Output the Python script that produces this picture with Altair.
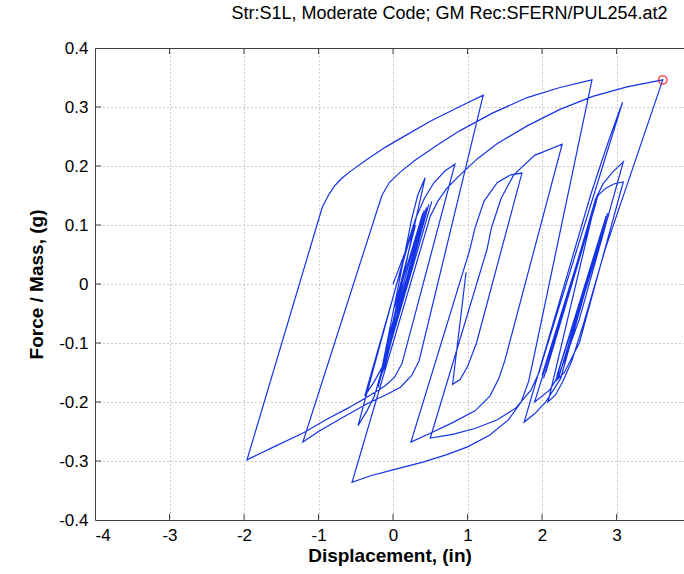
import altair as alt
import pandas as pd

# Hysteresis path (displacement in, force/mass g) in time order
disp = [
    0.00, 0.30, 0.02, 0.40, -0.08, 0.48, -0.14, 0.45, -0.18, 0.52,
    -0.10, -0.25, -0.38, 0.30, -0.12, 0.42, -0.20,
    0.25, 0.33, 0.43,
    -0.10, -0.17, -0.25, -0.35, -0.47,
    0.20, 0.30, 0.42, 0.55, 0.70, 0.83,
    0.12, 0.02, -0.10, -0.30, -0.60, -0.90, -1.20, -1.60, -1.96,
    -0.95, -0.86, -0.78, -0.68, -0.55, -0.35, -0.10, 0.20, 0.50, 0.85, 1.21,
    0.35, 0.25, 0.10, -0.10, -0.35, -0.70, -1.00, -1.21,
    -0.15, -0.05, 0.10, 0.30, 0.60, 0.90, 1.34, 1.80, 2.24, 2.67,
    1.88, 1.82, 1.72, 1.55, 1.30, 1.00, 0.70, 0.40, 0.00, -0.30, -0.55,
    0.50, 0.60, 0.72, 0.90, 1.13, 1.40, 1.80, 2.24, 2.68, 3.14, 3.62,
    2.85, 2.55, 2.40, 2.28, 2.18, 2.08,
    2.73, 2.82, 2.95, 3.09, 2.50, 2.30, 2.20, 2.10, 1.90,
    2.73, 2.05, 2.72, 2.02, 2.70, 2.00, 2.75, 2.85, 2.97, 3.09,
    2.50, 2.30, 2.18, 2.88, 2.22, 2.90, 2.20, 2.86,
    2.25, 2.05, 1.90, 1.76,
    2.65, 2.78, 2.90, 3.00, 3.08,
    2.03, 1.96, 1.85, 1.65, 1.40, 1.10, 0.80, 0.50,
    1.26, 1.32, 1.45, 1.62, 1.90, 2.27,
    1.50, 1.42, 1.30, 1.10, 0.80, 0.50, 0.24,
    1.03, 1.10, 1.22, 1.40, 1.58, 1.73,
    1.12, 1.00, 0.90, 0.80, 0.98,
]
force = [
    0.00, 0.10, -0.04, 0.12, -0.10, 0.135, -0.15, 0.13, -0.165, 0.14,
    -0.13, -0.165, -0.19, 0.11, -0.145, 0.125, -0.175,
    0.11, 0.15, 0.18,
    -0.12, -0.155, -0.19, -0.215, -0.24,
    0.07, 0.11, 0.145, 0.172, 0.192, 0.203,
    -0.135, -0.158, -0.172, -0.188, -0.21, -0.23, -0.252, -0.276, -0.298,
    0.13, 0.152, 0.167, 0.18, 0.193, 0.211, 0.232, 0.254, 0.276, 0.298, 0.32,
    -0.13, -0.155, -0.175, -0.188, -0.203, -0.228, -0.25, -0.268,
    0.15, 0.172, 0.19, 0.21, 0.236, 0.26, 0.29, 0.316, 0.333, 0.346,
    -0.13, -0.165, -0.20, -0.23, -0.256, -0.276, -0.29, -0.302, -0.315, -0.325, -0.336,
    0.115, 0.14, 0.162, 0.185, 0.212, 0.238, 0.268, 0.296, 0.318, 0.334, 0.346,
    0.06, -0.07, -0.13, -0.165, -0.188, -0.20,
    0.147, 0.17, 0.19, 0.207, -0.06, -0.13, -0.16, -0.18, -0.20,
    0.14, -0.15, 0.145, -0.16, 0.13, -0.155, 0.15, 0.162, 0.17, 0.173,
    -0.10, -0.15, -0.165, 0.12, -0.16, 0.12, -0.155, 0.115,
    -0.16, -0.20, -0.22, -0.234,
    0.15, 0.20, 0.245, 0.28, 0.308,
    -0.12, -0.15, -0.18, -0.21, -0.23, -0.245, -0.255, -0.261,
    0.058, 0.095, 0.145, 0.185, 0.218, 0.237,
    -0.13, -0.16, -0.19, -0.215, -0.235, -0.253, -0.268,
    0.058, 0.095, 0.14, 0.172, 0.185, 0.188,
    -0.10, -0.14, -0.162, -0.17, 0.02,
]
peak_disp = [3.62]
peak_force = [0.346]

x_ticks = [-4, -3, -2, -1, 0, 1, 2, 3]
y_ticks = [-0.4, -0.3, -0.2, -0.1, 0.0, 0.1, 0.2, 0.3, 0.4]

path = pd.DataFrame({"i": list(range(len(disp))), "x": disp, "y": force})
peak = pd.DataFrame({"x": peak_disp, "y": peak_force})
xt = pd.DataFrame({"x": x_ticks[1:]})
yt = pd.DataFrame({"y": y_ticks[1:-1]})

W, H = 589, 472
FONT = "Liberation Sans"
xs = alt.Scale(domain=[-4, 3.905], nice=False, zero=False)
ys = alt.Scale(domain=[-0.4, 0.4], nice=False, zero=False)

line = alt.Chart(path).mark_line(color="#1533e6", strokeWidth=1.2, clip=True).encode(
    x=alt.X("x:Q", scale=xs,
            axis=alt.Axis(values=x_ticks, title="Displacement, (in)",
                          labelExpr="datum.value < 0 ? '-' + format(-datum.value, 'd') : format(datum.value, 'd')",
                          grid=True, gridDash=[1, 3], gridColor="#9a9a9a", gridWidth=1,
                          domainColor="#404040", tickSize=0, labelPadding=7,
                          labelFont=FONT, labelFontSize=17, labelColor="black",
                          titleFont=FONT, titleFontSize=19, titleFontWeight="bold",
                          titleColor="black", titlePadding=3)),
    y=alt.Y("y:Q", scale=ys,
            axis=alt.Axis(values=y_ticks, title="Force / Mass, (g)",
                          labelExpr="datum.value == 0 ? '0' : (datum.value < 0 ? '-' + format(-datum.value, '.1f') : format(datum.value, '.1f'))",
                          grid=True, gridDash=[1, 3], gridColor="#9a9a9a", gridWidth=1,
                          domainColor="#404040", tickSize=0, labelPadding=7,
                          labelFont=FONT, labelFontSize=17, labelColor="black",
                          titleFont=FONT, titleFontSize=19, titleFontWeight="bold",
                          titleColor="black", titlePadding=12)),
    order="i:Q",
)

pt = alt.Chart(peak).mark_point(shape="circle", filled=False, color="#ee1111",
                                size=70, strokeWidth=1.6).encode(
    x=alt.X("x:Q", scale=xs,
            axis=alt.Axis(orient="top", labels=False, ticks=False, grid=False,
                          domainColor="#404040", title=None)),
    y=alt.Y("y:Q", scale=ys, axis=None),
)

tick_style = dict(color="#404040", strokeWidth=1)
xb = alt.Chart(xt).mark_rule(**tick_style).encode(
    x=alt.X("x:Q", scale=xs, axis=None), y=alt.value(H), y2=alt.value(H - 6))
xtop = alt.Chart(xt).mark_rule(**tick_style).encode(
    x=alt.X("x:Q", scale=xs, axis=None), y=alt.value(0), y2=alt.value(6))
yl = alt.Chart(yt).mark_rule(**tick_style).encode(
    y=alt.Y("y:Q", scale=ys, axis=None), x=alt.value(0), x2=alt.value(6))

chart = alt.layer(line, pt, xb, xtop, yl).resolve_axis(
    x="independent", y="independent").properties(
    width=W, height=H,
    title=alt.TitleParams("Str:S1L, Moderate Code; GM Rec:SFERN/PUL254.at2",
                          font=FONT, fontSize=18, fontWeight="normal", color="black",
                          anchor="middle", dx=60, offset=16),
    autosize=alt.AutoSizeParams(type="none"),
    padding={"left": 95, "top": 48, "right": 0, "bottom": 54},
).configure_view(stroke=None).configure(background="white")

chart.save("out.html", embed_options={"renderer": "svg", "actions": False})
